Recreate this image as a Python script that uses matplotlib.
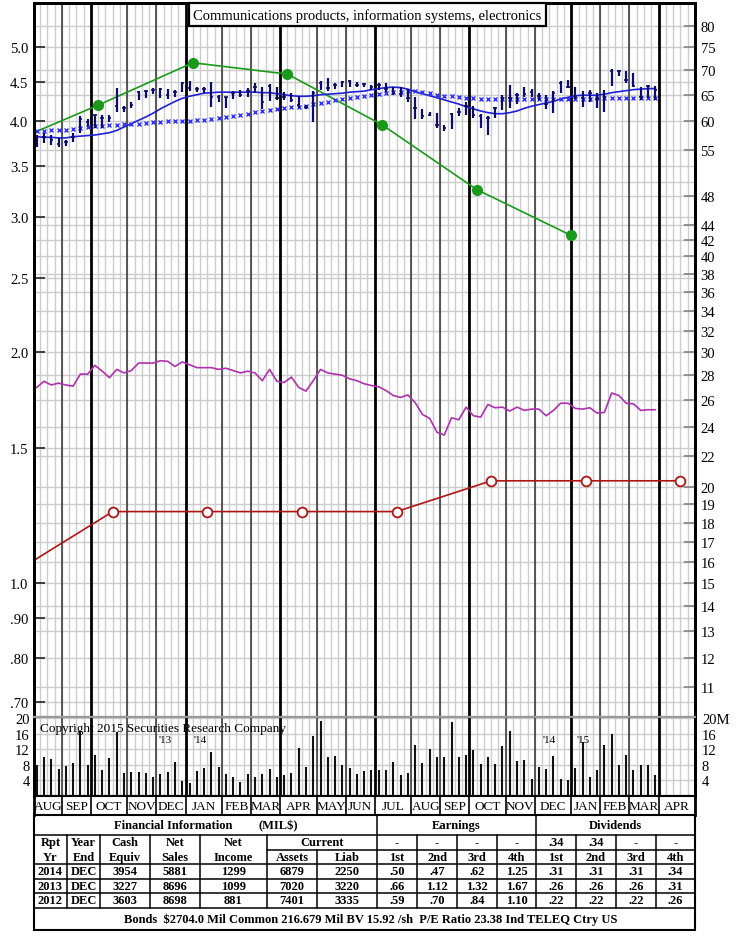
import matplotlib
matplotlib.use("Agg")
import matplotlib.pyplot as plt
from matplotlib.patches import Rectangle
import numpy as np

plt.rcParams['font.family'] = ['Liberation Serif', 'DejaVu Serif']

# ---------------- data ----------------
# weekly price bars, Aug 2013 - Mar 2015 (right scale, $)
week_high = [57.6, 58.0, 57.6, 57.1, 56.8, 58.0, 60.9, 60.5, 61.2, 61.2,
             61.1, 66.4, 62.9, 63.5, 65.8, 66.0, 66.4, 66.4, 66.2, 66.0,
             67.6, 67.8, 66.6, 66.6, 67.6, 65.0, 64.6, 65.8, 66.0, 66.4,
             67.4, 66.6, 67.2, 66.6, 65.6, 65.4, 64.8, 63.1, 65.8, 67.8,
             68.4, 67.4, 67.8, 68.0, 67.6, 67.4, 67.0, 67.4, 67.4, 66.6,
             66.6, 66.2, 64.6, 62.2, 61.8, 61.6, 59.4, 61.6, 62.4, 63.5,
             62.9, 61.4, 60.9, 62.7, 65.0, 67.0, 65.4, 66.6, 66.2, 65.4,
             65.0, 65.8, 67.8, 68.0, 66.6, 65.8, 66.0, 65.4, 66.0, 70.3,
             70.1, 69.7, 69.3, 66.6, 67.0, 66.8]
week_low = [55.6, 56.3, 55.9, 55.6, 55.8, 56.4, 58.0, 59.1, 58.9, 58.9,
            59.8, 61.8, 61.8, 62.4, 64.0, 64.4, 65.2, 64.4, 64.2, 64.6,
            65.6, 65.8, 65.6, 65.4, 62.7, 63.6, 62.5, 64.2, 64.6, 64.6,
            65.4, 62.2, 63.8, 64.0, 64.0, 63.5, 62.5, 62.2, 59.8, 66.0,
            65.8, 66.2, 66.6, 66.6, 66.6, 66.6, 66.0, 66.0, 65.6, 65.0,
            64.6, 63.5, 60.5, 60.5, 60.9, 58.9, 58.3, 58.7, 60.9, 61.1,
            60.7, 58.9, 57.6, 60.7, 62.0, 62.4, 63.3, 64.6, 64.6, 64.0,
            62.2, 61.6, 65.4, 66.4, 64.2, 62.7, 63.6, 62.4, 61.8, 66.8,
            68.7, 67.4, 66.6, 64.0, 64.4, 64.0]
week_close = [57.3, 57.3, 56.8, 56.1, 56.4, 57.3, 60.5, 59.8, 61.1, 60.7,
              60.7, 62.9, 62.5, 63.1, 65.6, 65.8, 66.0, 66.2, 65.0, 65.6,
              67.4, 66.4, 66.2, 66.2, 64.6, 64.6, 64.6, 65.4, 65.0, 65.8,
              66.6, 63.6, 66.8, 64.4, 64.6, 64.0, 63.1, 62.7, 65.4, 67.4,
              66.4, 67.0, 67.6, 67.8, 67.0, 67.2, 66.6, 67.0, 66.2, 65.4,
              65.2, 64.4, 62.4, 60.9, 61.2, 59.4, 58.9, 61.4, 61.8, 62.9,
              61.2, 60.9, 60.7, 62.5, 64.4, 64.4, 65.0, 65.2, 65.6, 64.8,
              63.3, 65.4, 67.4, 66.6, 64.6, 64.4, 65.4, 64.2, 64.6, 69.9,
              69.9, 68.0, 66.8, 64.6, 66.8, 66.0]
ma_short = [57.3, 57.2, 57.2, 57.1, 57.1, 57.3, 57.4, 57.5, 57.6, 57.8,
            58.0, 58.4, 59.0, 59.6, 60.2, 60.8, 61.5, 62.3, 63.0, 63.7,
            64.3, 64.7, 65.0, 65.3, 65.4, 65.5, 65.5, 65.5, 65.5, 65.5,
            65.5, 65.4, 65.4, 65.2, 65.0, 64.8, 64.7, 64.7, 64.8, 65.0,
            65.1, 65.2, 65.3, 65.5, 65.6, 65.7, 66.0, 66.2, 66.4, 66.5,
            66.4, 66.1, 65.6, 65.2, 64.8, 64.4, 64.0, 63.6, 63.2, 62.7,
            62.3, 61.9, 61.6, 61.4, 61.4, 61.6, 61.9, 62.4, 62.8, 63.1,
            63.4, 63.7, 64.2, 64.5, 64.8, 64.9, 64.9, 64.9, 65.1, 65.4,
            65.6, 65.8, 66.0, 66.1, 66.2, 66.2]
ma_long = [58.3, 58.3, 58.4, 58.4, 58.5, 58.7, 58.9, 59.0, 59.1, 59.2,
           59.3, 59.4, 59.5, 59.5, 59.6, 59.7, 59.8, 59.9, 60.0, 60.0,
           60.1, 60.1, 60.2, 60.3, 60.5, 60.6, 60.8, 61.0, 61.2, 61.4,
           61.7, 61.9, 62.1, 62.3, 62.5, 62.6, 62.7, 62.9, 63.2, 63.4,
           63.6, 63.9, 64.1, 64.3, 64.6, 64.8, 65.0, 65.2, 65.3, 65.5,
           65.6, 65.7, 65.7, 65.6, 65.3, 65.0, 64.8, 64.7, 64.5, 64.4,
           64.3, 64.2, 64.1, 64.1, 64.1, 64.1, 64.1, 64.1, 64.1, 64.1,
           64.1, 64.1, 64.2, 64.2, 64.2, 64.2, 64.2, 64.3, 64.3, 64.3,
           64.3, 64.3, 64.3, 64.3, 64.3, 64.3]
rel_strength = [27.0, 27.5, 27.2, 27.35, 27.2, 27.1, 28.1, 28.1, 28.85, 28.35,
                27.8, 28.5, 28.2, 28.4, 29.05, 29.05, 29.05, 29.25, 29.2, 28.75,
                29.15, 28.9, 28.65, 28.65, 28.65, 28.5, 28.6, 28.4, 28.2, 28.35,
                28.2, 27.55, 28.5, 27.5, 27.4, 27.85, 27.0, 26.7, 27.55, 28.5,
                28.2, 28.1, 28.0, 27.7, 27.55, 27.3, 27.15, 27.05, 26.75, 26.35,
                26.2, 26.4, 25.8, 24.9, 24.6, 23.6, 23.4, 24.65, 24.5, 25.45,
                24.8, 24.7, 25.65, 25.4, 25.45, 25.15, 25.45, 25.2, 25.3, 25.3,
                24.8, 25.2, 25.75, 25.75, 25.35, 25.3, 25.4, 25.0, 25.05, 26.55,
                26.35, 25.75, 25.7, 25.2, 25.25, 25.25]
volume_m = [7.85, 10.0, 9.4, 7.0, 7.6, 8.45, 16.4, 8.0, 10.6, 6.75,
            9.75, 16.4, 5.9, 6.05, 6.15, 6.0, 4.8, 5.6, 6.15, 8.7,
            3.9, 3.3, 6.5, 7.2, 11.3, 7.35, 5.7, 4.8, 3.6, 5.65,
            4.8, 5.65, 7.0, 5.0, 5.3, 5.9, 12.3, 7.5, 15.4, 19.3,
            10.15, 10.3, 7.95, 7.1, 5.65, 6.5, 6.75, 6.75, 6.75, 8.7,
            5.45, 5.9, 13.15, 8.45, 12.1, 10.0, 10.0, 18.95, 10.0, 10.6,
            11.9, 8.2, 10.15, 8.2, 12.9, 16.75, 9.05, 9.2, 4.45, 7.35,
            6.9, 10.4, 4.25, 4.2, 7.25, 13.85, 4.85, 6.75, 13.15, 16.0,
            8.0, 10.6, 6.75, 8.0, 8.0, 5.3]

# 12-month earnings and annual dividend rate (left scale), week positions
eps_week = [-5, 8, 21, 34, 47, 60, 73]
eps_12m = [3.72, 4.20, 4.77, 4.61, 3.96, 3.26, 2.84]
div_week = [-3, 10, 23, 36, 49, 62, 75, 88]
div_rate = [1.04, 1.24, 1.24, 1.24, 1.24, 1.36, 1.36, 1.36]

months = ["AUG", "SEP", "OCT", "NOV", "DEC", "JAN", "FEB", "MAR", "APR", "MAY",
          "JUN", "JUL", "AUG", "SEP", "OCT", "NOV", "DEC", "JAN", "FEB", "MAR", "APR"]
month_edges = [-0.82, 3, 7, 12, 16, 20, 25, 29, 33, 38, 42, 46, 51, 55, 59,
               64, 68, 73, 77, 81, 85, 90]
quarter_edges = [7, 20, 33, 46, 59, 73, 85]
year_marks = [("'13", 17.2), ("'14", 22.0), ("'14", 69.9), ("'15", 74.6)]

RATIO = 15  # price = RATIO * left-scale value
left_ticks = [5.0, 4.5, 4.0, 3.5, 3.0, 2.5, 2.0, 1.5, 1.0, 0.9, 0.8, 0.7]
left_labels = ["5.0", "4.5", "4.0", "3.5", "3.0", "2.5", "2.0", "1.5", "1.0", ".90", ".80", ".70"]
right_ticks = [80, 75, 70, 65, 60, 55, 48, 44, 42, 40, 38, 36, 34, 32, 30, 28,
               26, 24, 22, 20, 19, 18, 17, 16, 15, 14, 13, 12, 11]
vol_ticks = [4, 8, 12, 16, 20]

title = "Communications products, information systems, electronics"

# financial table
rpt_years = ["2014", "2013", "2012"]
year_end = ["DEC", "DEC", "DEC"]
cash_equiv = [3954, 3227, 3603]
net_sales = [5881, 8696, 8698]
net_income = [1299, 1099, 881]
cur_assets = [6879, 7020, 7401]
cur_liab = [2250, 3220, 3335]
earnings_q = [[0.50, 0.47, 0.62, 1.25], [0.66, 1.12, 1.32, 1.67], [0.59, 0.70, 0.84, 1.10]]
dividends_q = [[0.31, 0.31, 0.31, 0.34], [0.26, 0.26, 0.26, 0.31], [0.22, 0.22, 0.22, 0.26]]
est_earnings = ["-", "-", "-", "-"]
est_dividends = [".34", ".34", "-", "-"]
bonds_line = "Bonds  $2704.0 Mil Common 216.679 Mil BV 15.92 /sh  P/E Ratio 23.38 Ind TELEQ Ctry US"

# ---------------- styles ----------------
GRID = "#cccccc"
BAR = "#0c0c70"
W, H = 739, 937


def frac(x0, y0, x1, y1):
    return [x0 / W, 1 - y1 / H, (x1 - x0) / W, (y1 - y0) / H]


def week_grid(a):
    for u in range(0, 90):
        a.axvline(u, color=GRID, lw=1, zorder=0)
    for e in month_edges[1:-1]:
        q = e in quarter_edges
        a.axvline(e, color="black" if q else "#303030", lw=2 if q else 1.1, zorder=1)


def fmt(v):
    s = f"{v:.2f}"
    return s[1:] if s.startswith("0") else s


fig = plt.figure(figsize=(7.39, 9.37), dpi=100)
ax = fig.add_axes(frac(34, 4, 695, 718))
ax_v = fig.add_axes(frac(34, 718, 695, 797), sharex=ax)
ax_m = fig.add_axes(frac(34, 797, 695, 816), sharex=ax)

x = np.arange(len(week_close)) - 0.45

# ---- price panel ----
ax.set_yscale("log")
ax.set_xlim(month_edges[0], month_edges[-1])
ax.set_ylim(10.04, 85.6)
grid_levels = sorted(set(right_ticks + [v * RATIO for v in left_ticks] + [50]))
for v in grid_levels:
    ax.axhline(v, color=GRID, lw=1, zorder=0)
week_grid(ax)

ax.vlines(x, week_low, week_high, color=BAR, lw=1.6, zorder=6)
ax.hlines(week_close, x - 0.24, x + 0.24, color=BAR, lw=1.2, zorder=6)
ax.plot(x, ma_short, color="#2020d8", lw=1.2, zorder=5)
ax.plot(x, ma_long, ls="none", marker="x", ms=2.8, mew=1.0, color="#3030ff", zorder=5)
ax.plot(x, rel_strength, color="#b030b0", lw=1.2, zorder=4)

eps_px = np.array(eps_12m) * RATIO
ax.plot(eps_week, eps_px, color="#1a9a1a", lw=1.2, zorder=4)
ax.plot(eps_week, eps_px, "o", color="#1a9a1a", ms=7, zorder=4)
div_px = np.array(div_rate) * RATIO
ax.plot(div_week, div_px, color="#b01515", lw=1.2, zorder=4)
ax.plot(div_week, div_px, "o", mfc="white", mec="#b01515", mew=1.3, ms=7, zorder=4)

ax.set_yticks([v * RATIO for v in left_ticks], labels=left_labels)
ax.minorticks_off()
ax.tick_params(axis="y", direction="in", length=8, width=1.3, color="#303030",
               labelsize=10.5, pad=4)
ax.tick_params(axis="x", bottom=False, labelbottom=False)

ax_r = ax.twinx()
ax_r.set_yscale("log")
ax_r.set_ylim(10.04, 85.6)
ax_r.set_yticks(right_ticks, labels=[str(v) for v in right_ticks])
ax_r.minorticks_off()
ax_r.tick_params(axis="y", direction="in", length=8, width=1.3, color="#888888",
                 labelsize=10.5, pad=4)

for a in (ax, ax_r):
    a.spines["left"].set_linewidth(2)
    a.spines["right"].set_linewidth(2)
    a.spines["top"].set_linewidth(2)
    a.spines["bottom"].set_color("#999999")
    a.spines["bottom"].set_linewidth(1.5)

# ---- volume panel ----
ax_v.set_ylim(0, 20.3)
for v in vol_ticks:
    ax_v.axhline(v, color=GRID, lw=1, zorder=0)
week_grid(ax_v)
ax_v.vlines(x, 0, volume_m, color="#111111", lw=1.5, zorder=6)
ax_v.set_yticks(vol_ticks, labels=[str(v) for v in vol_ticks])
ax_v.tick_params(axis="y", direction="in", length=0, labelsize=10.5, pad=3)
ax_v.tick_params(axis="x", bottom=False, labelbottom=False)
ax_vr = ax_v.twinx()
ax_vr.set_ylim(0, 20.3)
ax_vr.set_yticks(vol_ticks, labels=[str(v) for v in vol_ticks[:-1]] + ["20M"])
ax_vr.tick_params(axis="y", direction="in", length=0, labelsize=10.5, pad=5)
for a in (ax_v, ax_vr):
    a.spines["left"].set_linewidth(2)
    a.spines["right"].set_linewidth(2)
    a.spines["top"].set_color("#999999")
    a.spines["top"].set_linewidth(1.5)
    a.spines["bottom"].set_linewidth(1.5)

ax_v.text(0.009, 0.86, "Copyright 2015 Securities Research Company", transform=ax_v.transAxes,
          fontsize=9.5, ha="left", va="center", zorder=8)
for lab, wk in year_marks:
    ax_v.text(wk, 0.71, lab, transform=ax_v.get_xaxis_transform(), fontsize=8,
              ha="center", va="center", zorder=8)

# ---- month row ----
ax_m.set_ylim(0, 1)
ax_m.set_yticks([])
ax_m.tick_params(axis="x", bottom=False, labelbottom=False)
for e in month_edges[1:-1]:
    ax_m.axvline(e, color="black", lw=1.2)
for i, m in enumerate(months):
    mid = (month_edges[i] + month_edges[i + 1]) / 2
    ax_m.text(mid, 0.45, m, fontsize=9.5, ha="center", va="center")
for s in ax_m.spines.values():
    s.set_linewidth(1.3)
ax_m.spines["left"].set_linewidth(2)
ax_m.spines["right"].set_linewidth(2)

# ---- overlay: title box and table (pixel coords) ----
ov = fig.add_axes([0, 0, 1, 1])
ov.set_xlim(0, W)
ov.set_ylim(H, 0)
ov.axis("off")

ov.add_patch(Rectangle((189, 4), 357, 23, fc="white", ec="black", lw=1.6, zorder=10))
ov.text(367.5, 16, title, fontsize=10.5, ha="center", va="center", zorder=11)

col_edges = [34, 67, 100, 150, 200, 267, 317, 377, 417, 457, 497, 536, 576, 616, 656, 695]
top, bottom = 816, 931
ov.add_patch(Rectangle((34, top), 661, bottom - top, fc="none", ec="black", lw=1.5))
for yy in (836, 865, 880, 894, 909):
    ov.plot([34, 695], [yy, yy], color="black", lw=1.1)
ov.plot([267, 695], [851, 851], color="black", lw=1.1)
for cx in col_edges[1:-1]:
    if cx in (377, 536):
        y0 = top
    elif cx == 317:
        y0 = 851
    else:
        y0 = 836
    ov.plot([cx, cx], [y0, 909], color="black", lw=1.1)

cc = [(a + b) / 2 for a, b in zip(col_edges[:-1], col_edges[1:])]
tk = dict(fontsize=9, fontweight="bold", ha="center", va="center")
ov.text(173, 826, "Financial Information", **tk)
ov.text(278, 826, "(MIL$)", **tk)
ov.text(456.5, 826, "Earnings", **tk)
ov.text(615.5, 826, "Dividends", **tk)

for i, s in enumerate(["Rpt", "Year", "Cash", "Net", "Net"]):
    ov.text(cc[i], 843.5, s, **tk)
ov.text(322, 843.5, "Current", **tk)
for i, s in enumerate(est_earnings + est_dividends):
    ov.text(cc[7 + i], 843.5, s, **tk)
for i, s in enumerate(["Yr", "End", "Equiv", "Sales", "Income", "Assets", "Liab"]
                      + ["1st", "2nd", "3rd", "4th"] * 2):
    ov.text(cc[i], 858, s, **tk)

for r, yy in enumerate([872.5, 887, 901.5]):
    row = [rpt_years[r], year_end[r], str(cash_equiv[r]), str(net_sales[r]),
           str(net_income[r]), str(cur_assets[r]), str(cur_liab[r])]
    row += [fmt(v) for v in earnings_q[r]] + [fmt(v) for v in dividends_q[r]]
    for i, s in enumerate(row):
        ov.text(cc[i], yy, s, **tk)

ov.text(371, 920, bonds_line, **tk)

fig.savefig("out.png", dpi=100, facecolor="white")
